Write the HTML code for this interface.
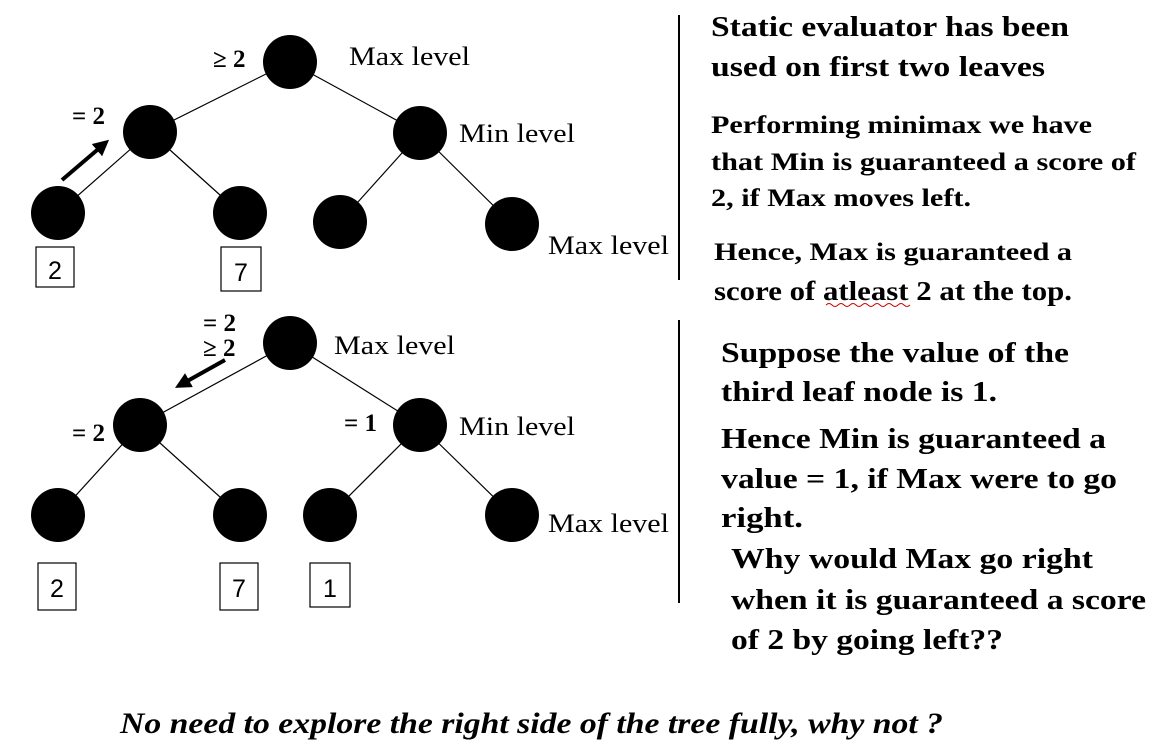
<!DOCTYPE html>
<html><head><meta charset="utf-8"><style>
html,body{margin:0;padding:0;background:#fff;}
svg{display:block;}
.lbl{font-family:"Liberation Serif",serif;font-size:26px;fill:#000;}
.b{font-family:"Liberation Serif",serif;font-weight:bold;fill:#000;}
.num{font-family:"Liberation Sans",sans-serif;font-size:25px;fill:#000;}
</style></head><body>
<svg width="1154" height="752" viewBox="0 0 1154 752" xmlns="http://www.w3.org/2000/svg">
<defs><marker id="ah" markerWidth="4" markerHeight="4" refX="2" refY="2" orient="auto" markerUnits="strokeWidth"><path d="M0,0 L4,2 L0,4 z" fill="#000"/></marker></defs>
<g stroke="#000" stroke-width="1.2">
<line x1="290" y1="62" x2="150" y2="132"/><line x1="290" y1="62" x2="420" y2="133"/>
<line x1="150" y1="132" x2="58" y2="213"/><line x1="150" y1="132" x2="240" y2="213"/>
<line x1="420" y1="133" x2="340" y2="222"/><line x1="420" y1="133" x2="512" y2="224"/>
</g>
<g fill="#000">
<circle cx="290" cy="62" r="27"/>
<circle cx="150" cy="132" r="27"/>
<circle cx="420" cy="133" r="27"/>
<circle cx="58" cy="213" r="27"/>
<circle cx="240" cy="213" r="27"/>
<circle cx="340" cy="222" r="27"/>
<circle cx="512" cy="224" r="27"/>
</g>
<rect x="36" y="247" width="38" height="40" fill="none" stroke="#000" stroke-width="1.2"/>
<text class="num" x="55" y="279" text-anchor="middle">2</text>
<rect x="221" y="247" width="40" height="44" fill="none" stroke="#000" stroke-width="1.2"/>
<text class="num" x="241" y="281" text-anchor="middle">7</text>
<line x1="62" y1="180" x2="103" y2="145" stroke="#000" stroke-width="4" marker-end="url(#ah)"/>
<text class="b" font-size="25" x="213" y="67">≥ 2</text>
<text class="lbl" x="349" y="65" textLength="121" lengthAdjust="spacingAndGlyphs">Max level</text>
<text class="b" font-size="25" x="72" y="124">= 2</text>
<text class="lbl" x="459" y="142" textLength="116" lengthAdjust="spacingAndGlyphs">Min level</text>
<text class="lbl" x="548" y="254" textLength="121" lengthAdjust="spacingAndGlyphs">Max level</text>
<line x1="679" y1="15" x2="679" y2="280" stroke="#000" stroke-width="2"/>
<g>
<text class="b" font-size="29" x="711" y="36" textLength="358" lengthAdjust="spacingAndGlyphs">Static evaluator has been</text>
<text class="b" font-size="29" x="711" y="76" textLength="334" lengthAdjust="spacingAndGlyphs">used on first two leaves</text>
<text class="b" font-size="25" x="711" y="133" textLength="381" lengthAdjust="spacingAndGlyphs">Performing minimax we have</text>
<text class="b" font-size="25" x="711" y="170" textLength="425" lengthAdjust="spacingAndGlyphs">that Min is guaranteed a score of</text>
<text class="b" font-size="25" x="711" y="206" textLength="260" lengthAdjust="spacingAndGlyphs">2, if Max moves left.</text>
<text class="b" font-size="25" x="714" y="260" textLength="358" lengthAdjust="spacingAndGlyphs">Hence, Max is guaranteed a</text>
<text class="b" font-size="27" x="714" y="300" textLength="358" lengthAdjust="spacingAndGlyphs">score of atleast 2 at the top.</text>
<path d="M826,305 q3,-3 6,0 t6,0 t6,0 t6,0 t6,0 t6,0 t6,0 t6,0 t6,0 t6,0 t6,0 t6,0 t6,0 t6,0" fill="none" stroke="#c00" stroke-width="1"/>
</g>
<g stroke="#000" stroke-width="1.2">
<line x1="290" y1="343" x2="140" y2="425"/><line x1="290" y1="343" x2="420" y2="425"/>
<line x1="140" y1="425" x2="58" y2="515"/><line x1="140" y1="425" x2="240" y2="515"/>
<line x1="420" y1="425" x2="330" y2="515"/><line x1="420" y1="425" x2="512" y2="515"/>
</g>
<g fill="#000">
<circle cx="290" cy="343" r="27"/>
<circle cx="140" cy="425" r="27"/>
<circle cx="420" cy="425" r="27"/>
<circle cx="58" cy="515" r="27"/>
<circle cx="240" cy="515" r="27"/>
<circle cx="330" cy="515" r="27"/>
<circle cx="512" cy="515" r="27"/>
</g>
<rect x="38" y="563" width="38" height="47" fill="none" stroke="#000" stroke-width="1.2"/>
<text class="num" x="57" y="597" text-anchor="middle">2</text>
<rect x="220" y="563" width="38" height="47" fill="none" stroke="#000" stroke-width="1.2"/>
<text class="num" x="239" y="597" text-anchor="middle">7</text>
<rect x="310" y="563" width="40" height="44" fill="none" stroke="#000" stroke-width="1.2"/>
<text class="num" x="330" y="597" text-anchor="middle">1</text>
<line x1="225" y1="360" x2="182" y2="384" stroke="#000" stroke-width="4" marker-end="url(#ah)"/>
<text class="b" font-size="25" x="203" y="331">= 2</text>
<text class="b" font-size="25" x="203" y="356">≥ 2</text>
<text class="lbl" x="334" y="354" textLength="121" lengthAdjust="spacingAndGlyphs">Max level</text>
<text class="b" font-size="25" x="72" y="441">= 2</text>
<text class="b" font-size="25" x="344" y="431">= 1</text>
<text class="lbl" x="459" y="435" textLength="116" lengthAdjust="spacingAndGlyphs">Min level</text>
<text class="lbl" x="548" y="532" textLength="121" lengthAdjust="spacingAndGlyphs">Max level</text>
<line x1="679" y1="320" x2="679" y2="603" stroke="#000" stroke-width="2"/>
<g>
<text class="b" font-size="29" x="721" y="362" textLength="348" lengthAdjust="spacingAndGlyphs">Suppose the value of the</text>
<text class="b" font-size="29" x="721" y="401" textLength="276" lengthAdjust="spacingAndGlyphs">third leaf node is 1.</text>
<text class="b" font-size="29" x="721" y="448" textLength="385" lengthAdjust="spacingAndGlyphs">Hence Min is guaranteed a</text>
<text class="b" font-size="29" x="721" y="488" textLength="396" lengthAdjust="spacingAndGlyphs">value = 1, if Max were to go</text>
<text class="b" font-size="29" x="721" y="527" textLength="82" lengthAdjust="spacingAndGlyphs">right.</text>
<text class="b" font-size="29" x="731" y="568" textLength="362" lengthAdjust="spacingAndGlyphs">Why would Max go right</text>
<text class="b" font-size="29" x="731" y="609" textLength="415" lengthAdjust="spacingAndGlyphs">when it is guaranteed a score</text>
<text class="b" font-size="29" x="731" y="649" textLength="272" lengthAdjust="spacingAndGlyphs">of 2 by going left??</text>
</g>
<text class="b" font-style="italic" font-size="30" x="120" y="733" textLength="823" lengthAdjust="spacingAndGlyphs">No need to explore the right side of the tree fully, why not ?</text>
</svg>
</body></html>
